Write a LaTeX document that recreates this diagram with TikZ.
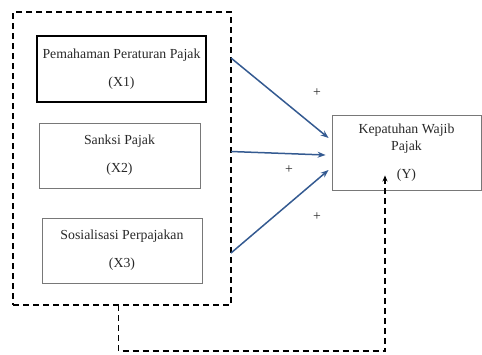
\documentclass[tikz,border=0pt]{standalone}
\usepackage{fontspec}
\setmainfont{Liberation Serif}
\usetikzlibrary{arrows.meta}
\definecolor{myText}{RGB}{40,40,40}
\definecolor{myBoxGray}{RGB}{120,120,120}
\definecolor{myBlue}{RGB}{52,90,145}

\begin{document}
\begin{tikzpicture}[%
    x=1pt, y=-1pt,
    every node/.style={
        font=\fontsize{13.8}{17}\selectfont,
        text=myText,
        align=center,
        inner sep=0pt,
    },
    varbox/.style={draw=myBoxGray, line width=0.9pt, rectangle},
    framebox/.style={draw, dash pattern=on 6pt off 4pt, line width=1.3pt},
    effect/.style={myBlue, line width=1.5pt, -{Stealth[length=8pt,width=6pt]}},
]
% fix the page size
\useasboundingbox (0,0) rectangle (482,354);

% draw the dashed frame around the independent variables
\node[framebox, minimum width=218pt, minimum height=293pt] (frame) at (122,158.5) {};

% draw the independent variables
\node[varbox, draw=black, line width=1.2pt, minimum width=169pt, minimum height=66pt] (x1) at (121.5,69)
    {Pemahaman Peraturan Pajak\\[11pt](X1)};
\node[varbox, minimum width=161pt, minimum height=65pt] (x2) at (119.5,155.5)
    {Sanksi Pajak\\[11pt](X2)};
\node[varbox, minimum width=160pt, minimum height=65pt] (x3) at (122,250.5)
    {Sosialisasi Perpajakan\\[11pt](X3)};

% draw the dependent variable
\node[varbox, minimum width=149pt, minimum height=75pt] (y) at (406.5,152.5)
    {Kepatuhan Wajib\\Pajak\\[11pt](Y)};

% points where the arrows leave the frame
\coordinate (out1) at (231,58);
\coordinate (out2) at (231,151.5);
\coordinate (out3) at (231,253);
\coordinate (fbot) at (118.5,305);

% draw the arrows
\draw[effect] (out1) -- ([xshift=-3pt,yshift=14.5pt]y.west);
\draw[effect] (out2) -- ([xshift=-6pt,yshift=-2.5pt]y.west);
\draw[effect] (out3) -- ([xshift=-3pt,yshift=-17.5pt]y.west);

% place the plus signs
\node (p1) at (317,93) {+};
\node (p2) at (289,170) {+};
\node (p3) at (317,217) {+};

% draw the dashed joint effect
\draw[dash pattern=on 6pt off 4pt, line width=1.3pt, -{Stealth[length=6pt,width=5pt]}]
    (fbot) |- (385,351) -- ([xshift=-21.5pt,yshift=15pt]y.south);
\end{tikzpicture}
\end{document}
